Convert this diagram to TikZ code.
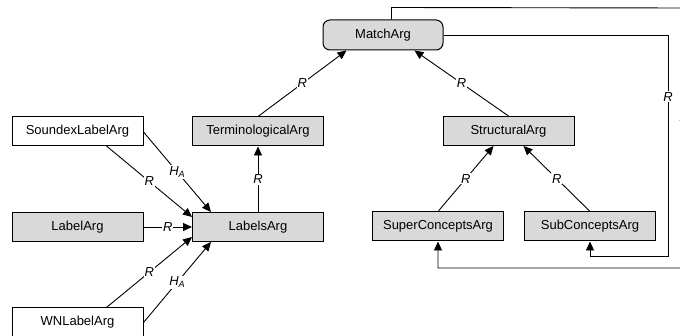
\documentclass[tikz,border=0pt]{standalone}
\usepackage{fontspec}
\setmainfont{Liberation Sans}
\usetikzlibrary{arrows.meta,calc}
\definecolor{boxgray}{HTML}{D9D9D9}
\begin{document}
\begin{tikzpicture}[x=1pt,y=-1pt,
  font=\fontsize{13}{15}\selectfont,
  argbox/.style={draw, line width=1pt, fill=boxgray, minimum width=131pt,
    minimum height=29pt, inner sep=0pt},
  plainbox/.style={argbox, fill=white},
  matchbox/.style={argbox, minimum width=120pt, minimum height=30pt, rounded corners=7pt},
  link/.style={line width=0.9pt, -{Triangle[length=9pt,width=8pt]}},
  rel/.style={fill=white, inner sep=1pt, font=\fontsize{13}{15}\selectfont\itshape}]
\useasboundingbox (0,0) rectangle (680,336);
\clip (0,0) rectangle (680,336);

% boxes
\node[matchbox] (match) at (383,35) {MatchArg};
\node[argbox] (term) at (258,131.5) {TerminologicalArg};
\node[argbox] (struct) at (508.5,131) {StructuralArg};
\node[plainbox] (snd) at (77.5,131) {SoundexLabelArg};
\node[argbox] (lab) at (77.5,227) {LabelArg};
\node[plainbox] (wn) at (77.5,322.5) {WNLabelArg};
\node[argbox] (lbls) at (258,227) {LabelsArg};
\node[argbox] (super) at (438,226.5) {SuperConceptsArg};
\node[argbox] (sub) at (590,226.5) {SubConceptsArg};

% label arguments into LabelsArg
\draw[link] ($(snd.south west)+(95,0)$) -- node[rel] {R} ($(lbls.west)+(0,-10)$);
\draw[link] ($(snd.east)+(0,1)$) -- node[rel] {H\textsubscript{A}} ($(lbls.north west)+(19,0)$);
\draw[link] (lab.east) -- node[rel] {R} (lbls.west);
\draw[link] ($(wn.north west)+(95,0)$) -- node[rel] {R} ($(lbls.west)+(0,10)$);
\draw[link] (wn.east) -- node[rel] {H\textsubscript{A}} ($(lbls.south west)+(19,0)$);

% upward relations
\draw[link] (lbls.north) -- node[rel] {R} (term.south);
\draw[link] (term.north) -- node[rel] {R} ($(match.south west)+(24,0)$);
\draw[link] (struct.north) -- node[rel] {R} ($(match.south west)+(92,0)$);
\draw[link] (super.north) -- node[rel] {R} ($(struct.south)+(-15,0)$);
\draw[link] (sub.north) -- node[rel] {R} ($(struct.south)+(15,0)$);

% feedback loops from MatchArg
\coordinate (c1) at (668,35);
\coordinate (c2) at (668,256);
\draw[link] (match.east) -- (c1) -- node[rel, pos=0.28] {R} (c2) -| (sub.south);
\coordinate (d0) at ($(match.north west)+(69,0)$);
\coordinate (d1) at ($(d0)+(0,-12)$);
\coordinate (d2) at (684,8);
\coordinate (d3) at (684,268);
\draw[link] (d0) -- (d1) -- (d2) -- node[rel, pos=0.42] {R} (d3) -| (super.south);
\end{tikzpicture}
\end{document}
